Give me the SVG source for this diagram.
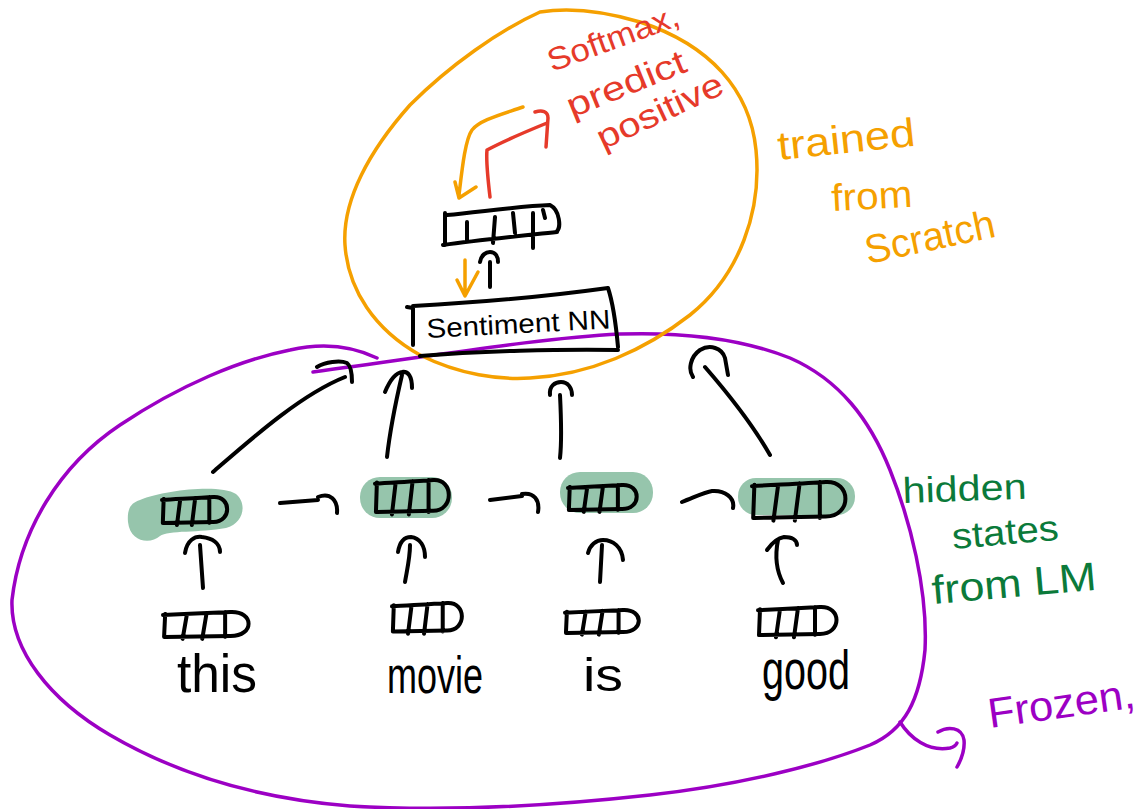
<svg xmlns="http://www.w3.org/2000/svg" xmlns:xlink="http://www.w3.org/1999/xlink" width="1146" height="809" viewBox="0 0 1146 809">
  <style>
    .ink { fill: none; stroke: #000; stroke-width: 4; stroke-linecap: round; stroke-linejoin: round; }
    .orange { fill: none; stroke: #f5a000; stroke-width: 3.5; stroke-linecap: round; stroke-linejoin: round; }
    .red { fill: none; stroke: #e63a2a; stroke-width: 3.5; stroke-linecap: round; stroke-linejoin: round; }
    .purple { fill: none; stroke: #9c00c4; stroke-width: 3.5; stroke-linecap: round; stroke-linejoin: round; }
    .hl { fill: #96c5ac; }
    .word { font-family: "Liberation Sans", Arial, sans-serif; fill: #000; }
    .note { font-family: "Liberation Sans", Arial, sans-serif; }
  </style>
  <defs>
    <!-- hand-drawn vector cell strip, normalised to 80 x 26 -->
    <path id="vec" class="ink" vector-effect="non-scaling-stroke"
          d="M2,2 L1,26 M0,3 C20,2 45,1 62,0 C84,-1 84,25 62,25 L2,26 M22,2 L18,28 M40,1 L36,28 M57,0 L57,26"/>
  </defs>

  <rect width="1146" height="809" fill="#fff"/>

  <!-- highlighted hidden states -->
  <g id="highlights">
    <path class="hl" d="M140,500 C165,490 220,484 236,494 C248,504 243,524 226,528 C200,533 168,530 160,536 C150,545 130,542 128,522 C127,510 130,503 140,500 Z"/>
    <rect class="hl" x="360" y="477" width="92" height="41" rx="20"/>
    <rect class="hl" x="560" y="472" width="93" height="41" rx="20"/>
    <rect class="hl" x="738" y="478" width="117" height="37" rx="18"/>
  </g>

  <!-- frozen language-model region -->
  <g id="frozen-region">
    <path class="purple" d="M377,358 C350,345 320,343 290,350 C240,360 180,385 120,425 C60,465 20,530 12,600 C10,650 50,700 110,735 C170,770 250,798 350,806 C450,812 560,805 650,795 C740,785 820,765 870,745 C905,730 920,700 925,650 C928,590 910,520 890,470 C870,420 840,380 790,358 C740,338 680,332 620,334 C540,338 440,355 313,372"/>
    <path class="purple" d="M900,722 C910,738 928,752 950,748 C954,747 956,745 957,743"/>
    <path class="purple" d="M938,732 C948,726 962,727 964,740 C965,750 961,760 957,767"/>
    <text class="note" fill="#9c00c4" font-size="42" transform="translate(990,728) rotate(-8)" textLength="148" lengthAdjust="spacingAndGlyphs">Frozen,</text>
  </g>

  <!-- trained-from-scratch region -->
  <g id="scratch-region">
    <path class="orange" d="M540,12 C500,30 450,65 410,105 C370,150 342,200 345,245 C348,290 375,330 420,355 C460,375 500,380 530,378 C590,375 645,350 690,315 C740,275 762,210 756,150 C750,90 710,45 640,22 C600,10 565,8 540,12"/>
    <text class="note" fill="#f5a000" font-size="40" transform="translate(779,160) rotate(-6)" textLength="138" lengthAdjust="spacingAndGlyphs">trained</text>
    <text class="note" fill="#f5a000" font-size="38" transform="translate(832,211) rotate(-3)" textLength="81" lengthAdjust="spacingAndGlyphs">from</text>
    <text class="note" fill="#f5a000" font-size="40" transform="translate(868,264) rotate(-12)" textLength="132" lengthAdjust="spacingAndGlyphs">Scratch</text>
  </g>

  <!-- output vector -->
  <g id="output-vector">
    <path class="ink" d="M445,213 L445,245 M447,215 C480,212 520,206 550,205 C560,210 561,228 557,231 M443,245 C480,240 520,236 557,232 M467,222 L467,242 M495,217 L493,243 M513,213 L515,233 M533,213 L533,248 M543,210 L545,218"/>
  </g>

  <!-- softmax note -->
  <g id="softmax-note">
    <text class="note" fill="#e63a2a" font-size="32" transform="translate(552,72) rotate(-20)" textLength="138" lengthAdjust="spacingAndGlyphs">Softmax,</text>
    <text class="note" fill="#e63a2a" font-size="34" transform="translate(572,118) rotate(-22)" textLength="126" lengthAdjust="spacingAndGlyphs">predict</text>
    <text class="note" fill="#e63a2a" font-size="34" transform="translate(603,150) rotate(-25)" textLength="136" lengthAdjust="spacingAndGlyphs">positive</text>
  </g>

  <!-- sentiment network -->
  <g id="sentiment-nn">
    <path class="ink" d="M407,307 L413,308 L413,345 M413,306 C470,303 550,296 608,288 C612,300 616,325 618,347 M420,356 C480,351 560,349 618,350"/>
    <text class="word" font-size="27" transform="translate(427,338) rotate(-3)" textLength="184" lengthAdjust="spacingAndGlyphs">Sentiment NN</text>
  </g>

  <!-- hidden states -->
  <g id="hidden-this"><use href="#vec" transform="translate(162,497) scale(0.83,1)"/></g>
  <g id="hidden-movie"><use href="#vec" transform="translate(375,480) scale(0.94,1.23)"/></g>
  <g id="hidden-is"><use href="#vec" transform="translate(568,485) scale(0.875,0.96)"/></g>
  <g id="hidden-good"><use href="#vec" transform="translate(752,482) scale(1.19,1.38)"/></g>

  <!-- word embeddings -->
  <g id="embed-this"><use href="#vec" transform="translate(163,612) scale(1.09,0.96)"/></g>
  <g id="embed-movie"><use href="#vec" transform="translate(392,603) scale(0.89,1.1)"/></g>
  <g id="embed-is"><use href="#vec" transform="translate(565,610) scale(0.94,0.88)"/></g>
  <g id="embed-good"><use href="#vec" transform="translate(758,607) scale(1,1.08)"/></g>

  <!-- input words -->
  <g id="words">
    <text class="word" font-size="54" x="177" y="692" textLength="80" lengthAdjust="spacingAndGlyphs">this</text>
    <text class="word" font-size="52" x="387" y="693" textLength="96" lengthAdjust="spacingAndGlyphs">movie</text>
    <text class="word" font-size="46" x="583" y="691" textLength="40" lengthAdjust="spacingAndGlyphs">is</text>
    <text class="word" font-size="56" x="762" y="689" textLength="88" lengthAdjust="spacingAndGlyphs">good</text>
  </g>

  <!-- hidden-state note -->
  <g id="hidden-note">
    <text class="note" fill="#0b7a3a" font-size="36" transform="translate(903,503) rotate(-2)" textLength="124" lengthAdjust="spacingAndGlyphs">hidden</text>
    <text class="note" fill="#0b7a3a" font-size="36" transform="translate(953,549) rotate(-5)" textLength="107" lengthAdjust="spacingAndGlyphs">states</text>
    <text class="note" fill="#0b7a3a" font-size="40" transform="translate(933,604) rotate(-5)" textLength="165" lengthAdjust="spacingAndGlyphs">from LM</text>
  </g>

  <!-- connectors -->
  <g id="connectors">
    <!-- recurrence between hidden states -->
    <path class="ink" d="M280,503 L318,500 M318,497 C330,492 338,500 337,513"/>
    <path class="ink" d="M490,500 L522,496 M522,494 C534,492 540,500 538,512"/>
    <path class="ink" d="M682,502 C695,497 705,492 712,491 C725,490 735,498 733,508"/>
    <!-- embeddings up to hidden states -->
    <path class="ink" d="M203,588 L200,545 M185,553 C187,540 195,536 202,537 C212,538 220,543 220,552"/>
    <path class="ink" d="M405,582 C407,570 410,558 410,545 M398,552 C400,540 405,537 411,537 C420,538 425,546 425,557"/>
    <path class="ink" d="M600,582 L602,545 M588,553 C590,545 596,540 603,540 C613,540 622,547 623,560"/>
    <path class="ink" d="M783,583 C776,570 775,555 778,540 M767,550 C772,543 778,538 784,537 C792,537 797,540 797,545"/>
    <!-- hidden states up to the sentiment network -->
    <path class="ink" d="M213,472 C250,440 300,395 345,377 M317,367 C325,362 340,360 347,363 C351,366 352,374 352,382"/>
    <path class="ink" d="M387,457 C390,430 395,405 402,375 M385,392 C390,380 395,373 402,372 C408,371 412,376 412,388"/>
    <path class="ink" d="M560,458 C562,440 561,415 560,395 M550,395 C549,386 555,382 561,382 C568,382 572,388 572,395"/>
    <path class="ink" d="M770,455 C750,420 725,390 705,367 M693,377 C688,370 690,357 700,350 C710,344 722,348 725,358 L728,375"/>
    <!-- network to output vector -->
    <path class="ink" d="M490,287 L490,262 M480,262 C481,255 486,252 490,252 C495,252 498,256 498,262"/>
    <!-- gradient flowing back -->
    <path class="orange" d="M465,260 L465,295 M457,280 L465,296 L478,272"/>
    <path class="orange" d="M523,107 C500,115 480,120 472,130 C465,140 462,170 459,195 M455,182 L459,198 L476,187"/>
    <!-- softmax prediction -->
    <path class="red" d="M490,197 C488,180 486,160 487,150 C500,143 525,132 547,123 M535,112 C542,110 548,111 548,118 L546,147"/>
  </g>
</svg>
